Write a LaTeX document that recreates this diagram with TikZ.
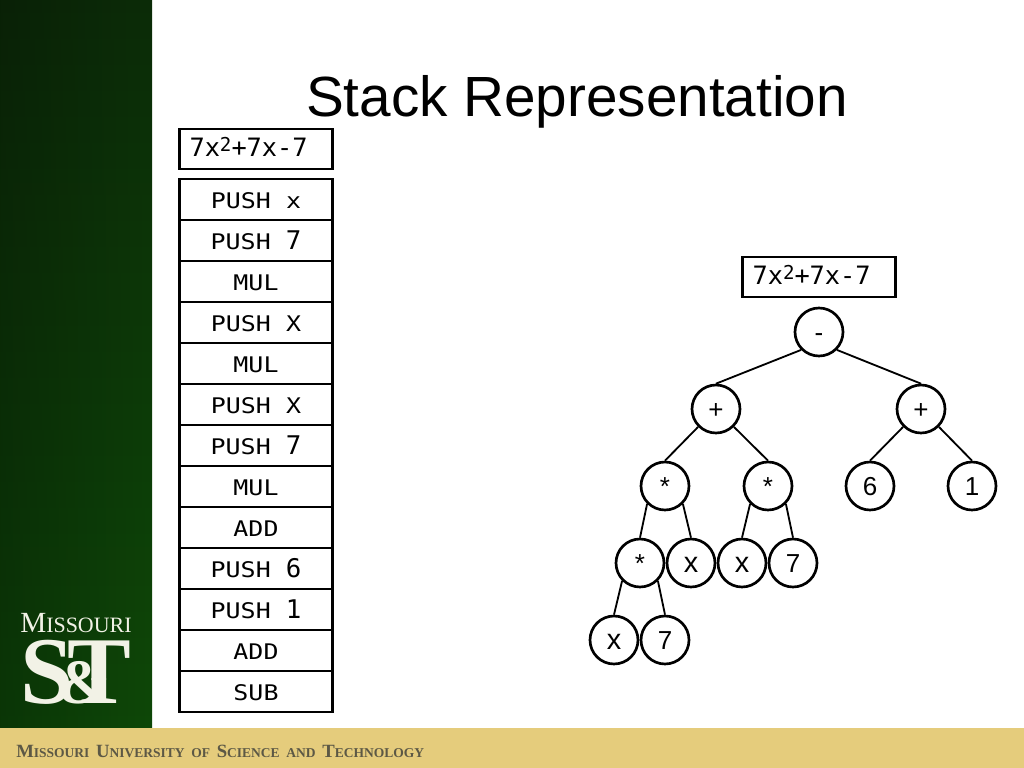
\documentclass[tikz,border=0pt]{standalone}
\usepackage{fontspec}
\setmainfont{Liberation Sans}
\newfontfamily\monofont{DejaVu Sans Mono}
\newfontfamily\cellfont[FakeStretch=1.16]{DejaVu Sans Mono}
\newfontfamily\logofont{Liberation Serif}
\usepackage{tikz}
\usetikzlibrary{fadings}

\definecolor{sidetop}{HTML}{0C2C08}
\definecolor{sidemid}{HTML}{0D3C09}
\definecolor{sidelow}{HTML}{0E4808}
\definecolor{bandgold}{HTML}{E5CC7C}
\definecolor{bandtext}{HTML}{5C5845}
\definecolor{logowhite}{HTML}{F2F2E6}

\newcommand{\fs}[1]{\fontsize{#1}{#1}\selectfont}
\newcommand{\bandcaps}[2]{{\fs{13.3}#1}{\fs{9.6}#2}}
\newcommand{\digit}[1]{{\monofont\fs{18.3}#1}}
\newcommand{\exprtext}{7x\raisebox{0.13cm}{\fs{13.6}2}+7x-7\kern0.37cm}
\newcommand{\bandgap}{\hspace{0.08cm}}

\begin{document}
\begin{tikzpicture}[
		title/.style={inner sep=0, font=\fs{40.3}},
		formula/.style={rectangle, draw, line width=1.7pt, minimum width=3.82cm, minimum height=1cm, inner sep=0, font=\monofont\fs{18}, text height=0.4cm, text depth=0cm},
		cell/.style={rectangle, draw, line width=1.7pt, minimum width=3.82cm, minimum height=1.025cm, inner sep=0, font=\cellfont\fs{15.3}, text height=0.44cm, text depth=0cm},
		op/.style={circle, draw, line width=1.9pt, minimum size=1.2cm, inner sep=0, font=\fs{18.5}, text height=0.466cm, text depth=0cm},
		var/.style={op, font=\fs{20.5}},
		link/.style={line width=1.3pt},
		logo/.style={inner sep=0, text=logowhite}
	]
  \useasboundingbox (0cm, 0cm) rectangle (25.6cm, -19.2cm);
  % slide frame
  \shade [top color=sidetop, middle color=sidemid, bottom color=sidelow] (0cm, 0cm) rectangle (3.8cm, -18.2cm);
  \fill [black, opacity=0.25, path fading=east] (0cm, 0cm) rectangle (3.8cm, -18.2cm);
  \fill [bandgold] (0cm, -18.2cm) rectangle (25.6cm, -19.2cm);
  \node (logo_name) [logo, font=\logofont, anchor=base west] at (0.5cm, -15.8cm) {\fs{20.8}M\fs{15.6}ISSOURI};
  \node (logo_s) [logo, font=\logofont\bfseries\fs{68}, anchor=base west] at (0.5cm, -17.575cm) {S};
  \node (logo_t) [logo, font=\logofont\bfseries\fs{68}, anchor=base east] at (3.3cm, -17.575cm) {T};
  \node (logo_and) [logo, font=\logofont\bfseries\fs{45}, anchor=base] at (2.12cm, -17.575cm) {\&};
  \node (band_text) [inner sep=0, anchor=base west, text=bandtext, font=\logofont\bfseries] at (0.4cm, -18.93cm) {\bandcaps{M}{ISSOURI}\bandgap{} \bandcaps{U}{NIVERSITY}\bandgap{} {\fs{9.6}OF}\bandgap{} \bandcaps{S}{CIENCE}\bandgap{} {\fs{9.6}AND}\bandgap{} \bandcaps{T}{ECHNOLOGY}};

  \node (title) [title] at (14.425cm, -2.545cm) {Stack Representation};

  % stack
  \node (expr_stack) [formula] at (6.4cm, -3.72cm) {\exprtext};
  \node (s_1) [cell] at (6.4cm, -4.99cm) {PUSH x};
  \node (s_2) [cell] at (6.4cm, -6.015cm) {PUSH \digit{7}};
  \node (s_3) [cell] at (6.4cm, -7.04cm) {MUL};
  \node (s_4) [cell] at (6.4cm, -8.065cm) {PUSH X};
  \node (s_5) [cell] at (6.4cm, -9.09cm) {MUL};
  \node (s_6) [cell] at (6.4cm, -10.115cm) {PUSH X};
  \node (s_7) [cell] at (6.4cm, -11.14cm) {PUSH \digit{7}};
  \node (s_8) [cell] at (6.4cm, -12.165cm) {MUL};
  \node (s_9) [cell] at (6.4cm, -13.19cm) {ADD};
  \node (s_10) [cell] at (6.4cm, -14.215cm) {PUSH \digit{6}};
  \node (s_11) [cell] at (6.4cm, -15.24cm) {PUSH \digit{1}};
  \node (s_12) [cell] at (6.4cm, -16.265cm) {ADD};
  \node (s_13) [cell] at (6.4cm, -17.29cm) {SUB};

  % tree
  \node (expr_tree) [formula] at (20.475cm, -6.92cm) {\exprtext};
  \node (t_root) [op] at (20.475cm, -8.3cm) {-};
  \node (t_add_l) [op] at (17.9cm, -10.225cm) {+};
  \node (t_add_r) [op] at (23.025cm, -10.225cm) {+};
  \node (t_mul_a) [op] at (16.625cm, -12.15cm) {*};
  \node (t_mul_b) [op] at (19.2cm, -12.15cm) {*};
  \node (t_six) [op] at (21.75cm, -12.15cm) {6};
  \node (t_one) [op] at (24.3cm, -12.15cm) {1};
  \node (t_mul_c) [op] at (16cm, -14.075cm) {*};
  \node (t_x_a) [var] at (17.275cm, -14.075cm) {x};
  \node (t_x_b) [var] at (18.55cm, -14.075cm) {x};
  \node (t_seven_a) [op] at (19.825cm, -14.075cm) {7};
  \node (t_x_c) [var] at (15.35cm, -16cm) {x};
  \node (t_seven_b) [op] at (16.625cm, -16cm) {7};
  \draw [link] (t_root.south west) -- (t_add_l.north);
  \draw [link] (t_root.south east) -- (t_add_r.north);
  \draw [link] (t_add_l.south west) -- (t_mul_a.north);
  \draw [link] (t_add_l.south east) -- (t_mul_b.north);
  \draw [link] (t_add_r.south west) -- (t_six.north);
  \draw [link] (t_add_r.south east) -- (t_one.north);
  \draw [link] (t_mul_a.south west) -- (t_mul_c.north);
  \draw [link] (t_mul_a.south east) -- (t_x_a.north);
  \draw [link] (t_mul_b.south west) -- (t_x_b.north);
  \draw [link] (t_mul_b.south east) -- (t_seven_a.north);
  \draw [link] (t_mul_c.south west) -- (t_x_c.north);
  \draw [link] (t_mul_c.south east) -- (t_seven_b.north);
\end{tikzpicture}
\end{document}
